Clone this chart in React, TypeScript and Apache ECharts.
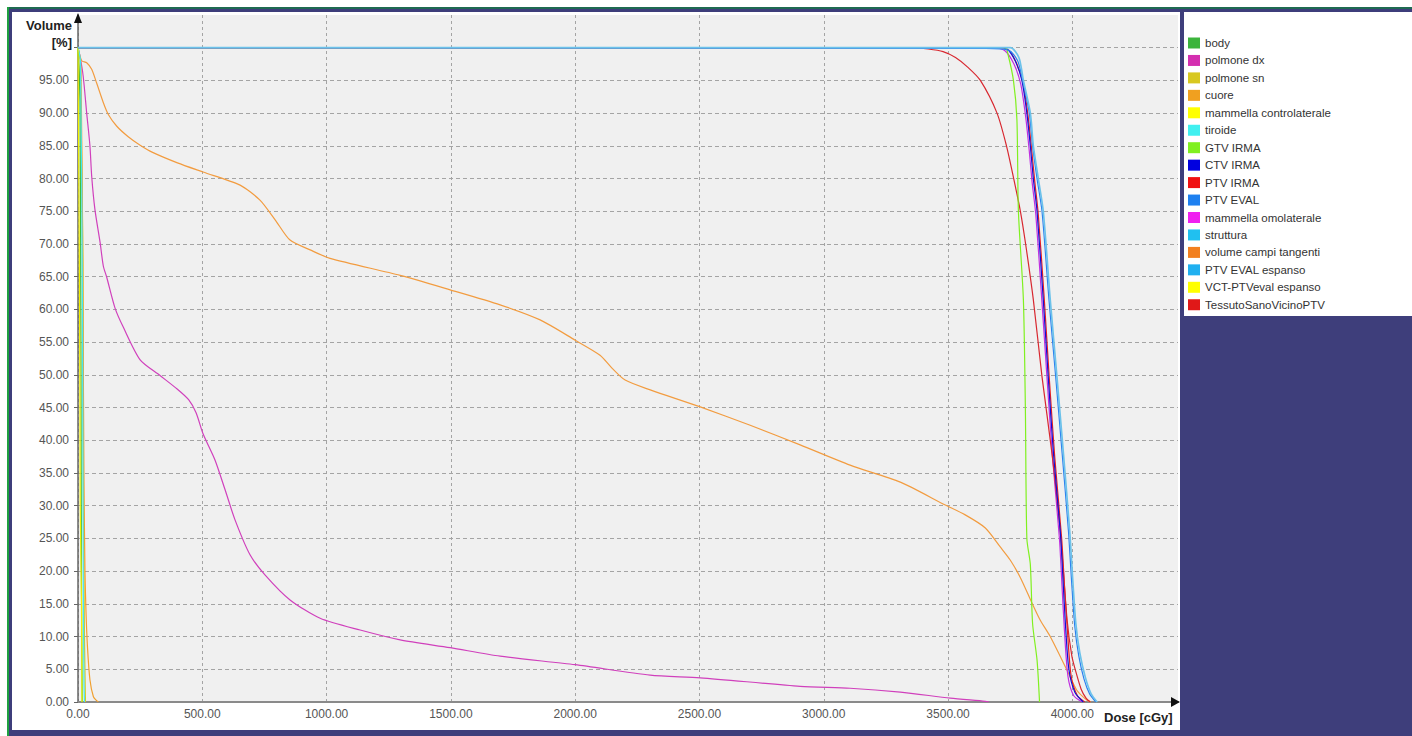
import React, { useEffect, useRef } from "react";
import * as echarts from "echarts";

// ---- Data (dose [cGy], volume [%]) ----
const seriesNames = [
  "body",
  "polmone dx",
  "polmone sn",
  "cuore",
  "mammella controlaterale",
  "tiroide",
  "GTV IRMA",
  "CTV IRMA",
  "PTV IRMA",
  "PTV EVAL",
  "mammella omolaterale",
  "struttura",
  "volume campi tangenti",
  "PTV EVAL espanso",
  "VCT-PTVeval espanso",
  "TessutoSanoVicinoPTV",
];

// legend swatch colours
const seriesColors = [
  "#3cb43c",
  "#d42fb0",
  "#d8c820",
  "#f0a020",
  "#ffff00",
  "#40f0f0",
  "#80f020",
  "#0000e0",
  "#f01010",
  "#1e80f0",
  "#f020f0",
  "#20c0f0",
  "#f28020",
  "#20b0f0",
  "#ffff00",
  "#e01818",
];

// curve colours as they appear in the plot
const lineColors = [
  "#3cc03c",
  "#d040bc",
  "#d8c820",
  "#f0a030",
  "#f4f000",
  "#40e8f0",
  "#80f020",
  "#1010d8",
  "#e82020",
  "#2a80f0",
  "#c030e0",
  "#20c0f0",
  "#f29c40",
  "#6cc2ea",
  "#ffff00",
  "#d82830",
];

const bodyDVH = [[0, 100], [8, 92], [12, 50], [13, 30], [15, 10], [17, 0]];
const polmoneDxDVH = [
  [0, 100], [8, 98.7], [21, 95.6], [35, 90], [48, 85], [55, 80.4], [68, 75.3], [89, 70.2],
  [102, 66.6], [115, 65], [149, 60.2], [182, 57.3], [250, 52.3], [330, 49.9], [400, 47.8],
  [445, 46.2], [475, 44.2], [503, 41], [551, 37], [592, 32.4], [632, 27.8], [692, 22.5],
  [753, 19.4], [853, 15.6], [974, 12.8], [1135, 11], [1296, 9.5], [1497, 8.3], [1698, 7],
  [2000, 5.7], [2302, 4.1], [2503, 3.7], [2905, 2.4], [3106, 2.1], [3308, 1.5], [3509, 0.6],
  [3650, 0.1], [3665, 0],
];
const polmoneSnDVH = [[0, 100], [12, 90], [20, 67], [21, 45], [22, 30], [26, 10], [30, 0]];
const cuoreDVH = [
  [0, 100], [12, 97], [20, 60], [24, 34], [28, 20], [32, 14], [38, 8.5], [48, 3.4],
  [62, 0.8], [75, 0.2], [82, 0],
];
const mammellaControDVH = [[0, 100], [5, 70], [8, 45], [9, 30], [14, 15], [16, 0]];
const tiroideDVH = [[0, 100], [10, 98], [18, 60], [21, 20], [24, 3], [26, 0]];
const gtvIrmaDVH = [
  [0, 100], [3730, 100], [3741, 99], [3763, 95], [3777, 89], [3783, 75], [3803, 61.5],
  [3811, 45], [3817, 25], [3831, 21], [3840, 12], [3858, 6.4], [3868, 0],
];
const ctvIrmaDVH = [
  [0, 100], [3700, 100], [3737, 99.8], [3770, 98], [3797, 95], [3817, 90], [3831, 85],
  [3843, 80], [3858, 75], [3883, 61.5], [3903, 49.7], [3924, 38], [3952, 25.8], [3962, 19],
  [3972, 12], [3986, 5], [4010, 1.5], [4044, 0],
];
const ptvIrmaDVH = [
  [0, 100], [3710, 100], [3745, 99.6], [3777, 97.5], [3802, 94.5], [3822, 89.5], [3836, 84.5],
  [3849, 79.5], [3863, 74.5], [3888, 61], [3908, 49], [3929, 37.5], [3957, 25], [3968, 18],
  [3980, 11], [3995, 4], [4020, 1], [4050, 0],
];
const ptvEvalDVH = [
  [0, 100], [3650, 99.9], [3745, 99.6], [3780, 98], [3800, 95], [3827, 90], [3840, 85],
  [3858, 80], [3878, 75], [3906, 61.5], [3933, 49.7], [3959, 38], [3985, 25.8], [3996, 19],
  [4010, 11.5], [4026, 7], [4047, 3.5], [4070, 1.2], [4095, 0],
];
const mammellaOmoDVH = [
  [0, 100], [3690, 100], [3730, 99.5], [3765, 97.5], [3792, 94.5], [3812, 89.5], [3826, 84.5],
  [3838, 79.5], [3853, 74.5], [3878, 61], [3899, 49], [3920, 37.5], [3948, 25], [3958, 18],
  [3968, 11], [3982, 4], [4005, 1], [4040, 0],
];
const strutturaDVH: number[][] = [];
const volumeCampiDVH = [
  [0, 100], [15, 98], [35, 97.7], [55, 96.7], [75, 94.6], [102, 91.6], [122, 89.8], [156, 88],
  [202, 86.4], [250, 85.1], [300, 84], [400, 82.4], [503, 81], [652, 79], [732, 76.7],
  [793, 73.7], [853, 70.6], [934, 69.1], [1014, 67.8], [1296, 65.2], [1497, 63], [1698, 60.7],
  [1859, 58.4], [2000, 55.3], [2100, 53], [2149, 51], [2201, 49.2], [2302, 47.7], [2503, 45.1],
  [2704, 42.3], [2905, 39.3], [3106, 36.2], [3308, 33.6], [3489, 30.1], [3569, 28.6],
  [3650, 26.6], [3710, 23.7], [3750, 21.7], [3791, 19], [3838, 15.1], [3871, 12.5],
  [3911, 10], [3978, 4.9], [4018, 1.8], [4058, 0.3], [4075, 0],
];
const ptvEvalEspansoDVH = [
  [0, 100], [3750, 100], [3785, 98.5], [3803, 95], [3831, 90], [3843, 85], [3863, 80],
  [3883, 75], [3911, 61.5], [3938, 49.7], [3964, 38], [3990, 25.8], [4001, 19], [4014, 12],
  [4030, 7.5], [4052, 3.8], [4075, 1.3], [4100, 0],
];
const vctPtvEvalDVH: number[][] = [];
const tessutoSanoDVH = [
  [0, 100], [3355, 100], [3420, 99.8], [3480, 99.4], [3530, 98.5], [3580, 97], [3630, 95],
  [3697, 90], [3735, 85], [3764, 80], [3791, 75], [3812, 70], [3843, 61.5], [3878, 49.7],
  [3918, 38], [3952, 25.8], [3979, 12.5], [3998, 7], [4012, 4.9], [4035, 2], [4055, 0.6],
  [4072, 0],
];

const seriesData = [
  bodyDVH, polmoneDxDVH, polmoneSnDVH, cuoreDVH, mammellaControDVH, tiroideDVH, gtvIrmaDVH,
  ctvIrmaDVH, ptvIrmaDVH, ptvEvalDVH, mammellaOmoDVH, strutturaDVH, volumeCampiDVH,
  ptvEvalEspansoDVH, vctPtvEvalDVH, tessutoSanoDVH,
];

// drawing order (higher = on top)
const seriesZ = [4, 2, 3, 3, 5, 4, 8, 7, 5, 8, 6, 8, 2, 10, 2, 6];

const xTickLabels = ["0.00", "500.00", "1000.00", "1500.00", "2000.00", "2500.00", "3000.00", "3500.00", "4000.00"];

export default function App() {
  const ref = useRef<HTMLDivElement>(null);

  useEffect(() => {
    if (!ref.current) return;
    const chart = echarts.init(ref.current, undefined, { renderer: "svg" });
    const font = "Liberation Sans";
    const option: any = {
      animation: false,
      grid: {
        left: 78,
        top: 15,
        width: 1100,
        height: 687,
        show: true,
        backgroundColor: "#f0f0f0",
        borderWidth: 0,
        outerBoundsMode: "none",
      },
      xAxis: {
        type: "value",
        min: 0,
        max: 4425,
        interval: 500,
        axisLine: { show: true, onZero: false, lineStyle: { color: "#8a8a8a", width: 2 } },
        axisTick: { show: false },
        axisLabel: {
          margin: 6,
          color: "#555",
          fontSize: 12,
          fontFamily: font,
          showMaxLabel: false,
          formatter: (v: number) => {
            const i = Math.round(v / 500);
            return Math.abs(v - i * 500) < 1e-6 && i < xTickLabels.length ? xTickLabels[i] : "";
          },
        },
        splitLine: {
          show: true,
          showMaxLine: false,
          lineStyle: { color: "#a4a4a4", type: [3, 3], width: 1 },
        },
      },
      yAxis: {
        type: "value",
        min: 0,
        max: 105,
        interval: 5,
        axisLine: { show: true, onZero: false, lineStyle: { color: "#666", width: 1.5 } },
        axisTick: { show: true, length: 4, lineStyle: { color: "#666" } },
        axisLabel: {
          margin: 9,
          color: "#555",
          fontSize: 12,
          fontFamily: font,
          showMaxLabel: false,
          formatter: (v: number) => (v < 99.5 ? v.toFixed(2) : ""),
        },
        splitLine: {
          show: true,
          showMaxLine: false,
          lineStyle: { color: "#a4a4a4", type: [4, 3], width: 1 },
        },
      },
      legend: {
        orient: "vertical",
        left: 1188,
        top: 37,
        padding: 0,
        itemWidth: 12,
        itemHeight: 11,
        itemGap: 5.45,
        icon: "rect",
        selectedMode: false,
        textStyle: { fontSize: 11.5, color: "#333", fontFamily: font, lineHeight: 12 },
        data: seriesNames,
      },
      series: seriesNames.map((name, i) => ({
        name,
        type: "line",
        data: seriesData[i],
        showSymbol: false,
        symbol: "none",
        silent: true,
        smooth: 0.25,
        z: seriesZ[i],
        lineStyle: { width: i === 13 ? 1.7 : 1.2, color: lineColors[i] },
        itemStyle: { color: seriesColors[i] },
      })),
      graphic: [
        {
          type: "polygon",
          z: 100,
          shape: { points: [[1171, 697], [1180, 702], [1171, 707]] },
          style: { fill: "#111" },
        },
        {
          type: "polygon",
          z: 100,
          shape: { points: [[74, 23], [78, 13], [82, 23]] },
          style: { fill: "#111" },
        },
        {
          type: "text",
          z: 100,
          x: 72,
          y: 25,
          style: {
            text: "Volume",
            font: `bold 13px "${font}"`,
            fill: "#222",
            align: "right",
            verticalAlign: "middle",
          },
        },
        {
          type: "text",
          z: 100,
          x: 72,
          y: 42,
          style: {
            text: "[%]",
            font: `bold 13px "${font}"`,
            fill: "#222",
            align: "right",
            verticalAlign: "middle",
          },
        },
        {
          type: "text",
          z: 100,
          x: 1104,
          y: 717,
          style: {
            text: "Dose [cGy]",
            font: `bold 13px "${font}"`,
            fill: "#222",
            align: "left",
            verticalAlign: "middle",
          },
        },
      ],
    };
    chart.setOption(option);
    return () => chart.dispose();
  }, []);

  const abs = (l: number, t: number, w: number, h: number, bg: string): React.CSSProperties => ({
    position: "absolute",
    left: l,
    top: t,
    width: w,
    height: h,
    background: bg,
  });

  return (
    <div style={{ position: "absolute", left: 0, top: 0, width: 1412, height: 736, background: "#fff", overflow: "hidden" }}>
      <div style={abs(7, 7, 1405, 729, "#3e3e7b")} />
      <div style={abs(7, 7, 1405, 2, "#1f6a52")} />
      <div style={abs(7, 7, 2, 729, "#1fa040")} />
      <div style={abs(12, 12, 1168, 718, "#ffffff")} />
      <div style={abs(1184, 12, 228, 304, "#ffffff")} />
      <div ref={ref} style={{ position: "absolute", left: 0, top: 0, width: 1412, height: 736 }} />
    </div>
  );
}
